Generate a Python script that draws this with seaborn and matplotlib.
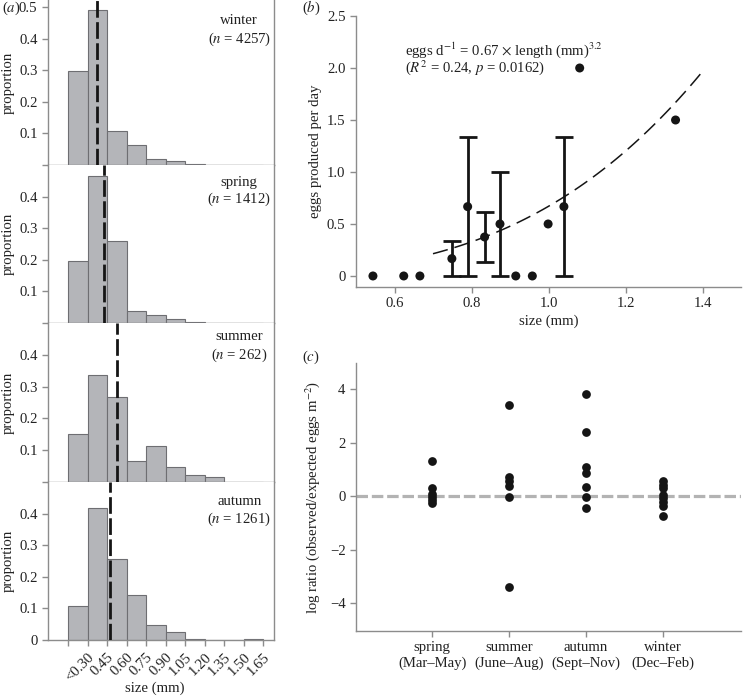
import numpy as np
import pandas as pd
import matplotlib
matplotlib.use("Agg")
import matplotlib.pyplot as plt
import seaborn as sns

sns.set_theme(style="ticks")
plt.rcParams["font.family"] = ["Liberation Serif", "DejaVu Serif"]
plt.rcParams["mathtext.fontset"] = "stix"
plt.rcParams["font.size"] = 10.6
plt.rcParams["axes.unicode_minus"] = True

# ---------------- data: panel (a) ----------------
size_bin_edges = [0.15, 0.30, 0.45, 0.60, 0.75, 0.90, 1.05, 1.20, 1.35, 1.50, 1.65]
size_tick_labels = ["<0.30", "0.45", "0.60", "0.75", "0.90", "1.05", "1.20", "1.35", "1.50", "1.65"]
hist_seasons = ["winter", "spring", "summer", "autumn"]
hist_n = [4257, 1412, 262, 1261]
prop_winter = [0.298, 0.490, 0.107, 0.064, 0.018, 0.012, 0.003, 0.001, 0.0, 0.0]
prop_spring = [0.195, 0.465, 0.258, 0.039, 0.025, 0.012, 0.003, 0.0, 0.0, 0.0]
prop_summer = [0.150, 0.336, 0.266, 0.065, 0.112, 0.046, 0.021, 0.017, 0.0, 0.0]
prop_autumn = [0.107, 0.418, 0.255, 0.142, 0.047, 0.024, 0.002, 0.0, 0.0, 0.003]
mean_size = [0.371, 0.429, 0.529, 0.475]

# ---------------- data: panel (b) ----------------
b_size = [0.544, 0.624, 0.666, 0.749, 0.790, 0.834, 0.874, 0.915, 0.958, 0.999, 1.040, 1.081, 1.330]
b_eggs = [0.0, 0.0, 0.0, 0.167, 0.667, 0.375, 0.5, 0.0, 0.0, 0.5, 0.667, 2.0, 1.5]
b_err_lo = [0.0, 0.0, 0.0, 0.167, 0.667, 0.24, 0.5, 0.0, 0.0, 0.0, 0.667, 0.0, 0.0]
b_err_hi = [0.0, 0.0, 0.0, 0.167, 0.667, 0.24, 0.5, 0.0, 0.0, 0.0, 0.667, 0.0, 0.0]
b_has_err = [False, False, False, True, True, True, True, False, False, False, True, False, False]
fit_coef = 0.67
fit_exp = 3.2
fit_from, fit_to = 0.70, 1.40

# ---------------- data: panel (c) ----------------
c_seasons = ["spring", "summer", "autumn", "winter"]
c_tick_labels = ["spring\n(Mar\u2013May)", "summer\n(June\u2013Aug)",
                 "autumn\n(Sept\u2013Nov)", "winter\n(Dec\u2013Feb)"]
c_spring = [1.31, 0.31, 0.08, -0.02, -0.12, -0.25]
c_summer = [3.41, 0.72, 0.56, 0.40, -0.04, -3.40]
c_autumn = [3.84, 2.41, 1.08, 0.87, 0.34, -0.04, -0.45]
c_winter = [0.58, 0.42, 0.30, 0.05, -0.05, -0.20, -0.37, -0.72]

# ---------------- figure ----------------
W, H = 743, 696
fig = plt.figure(figsize=(W / 100, H / 100), dpi=100)

def px_axes(l, t, r, b):
    return fig.add_axes([l / W, 1 - b / H, (r - l) / W, (b - t) / H])

SPINE = "#8c8c8c"
TXT = "#222222"

def style_axes(ax):
    for s in ax.spines.values():
        s.set_color(SPINE)
        s.set_linewidth(1.0)
    ax.tick_params(colors=SPINE, labelcolor=TXT, direction="out", length=4, width=1.0,
                   labelsize=10.6)
    ax.grid(False)
    ax.set_facecolor("white")

# panel (a)
props = [prop_winter, prop_spring, prop_summer, prop_autumn]
panel_px = [(0, 165), (165, 323), (323, 482), (482, 640)]
title_y = [(0.456, 0.399), (0.446, 0.392), (0.459, 0.399), (0.437, 0.383)]
centers = [(a + b) / 2 for a, b in zip(size_bin_edges[:-1], size_bin_edges[1:])]
for i, (season, n, p, m) in enumerate(zip(hist_seasons, hist_n, props, mean_size)):
    t, b = panel_px[i]
    ax = px_axes(48, t, 274, b)
    style_axes(ax)
    sns.histplot(x=centers, weights=p, bins=size_bin_edges, ax=ax,
                 color="#b4b5b9", edgecolor="#6e6e72", linewidth=0.8, alpha=1.0)
    ax.axvline(m, color="#151515", lw=2.0, dashes=(6.0, 1.6), zorder=5)
    ax.set_xlim(-0.004, 1.732)
    if i == 0:
        ax.set_ylim(0, 0.522)
        yt = [0, 0.1, 0.2, 0.3, 0.4, 0.5]
    else:
        ax.set_ylim(0, 0.5)
        yt = [0, 0.1, 0.2, 0.3, 0.4]
    ax.set_yticks(yt)
    ax.set_yticklabels([("0" if i == 3 else "") if v == 0 else f"{v:.1f}" for v in yt])
    ax.spines["top"].set_visible(False)
    ax.set_xticks(size_bin_edges)
    if i == 3:
        ax.set_xticklabels([""] + size_tick_labels, rotation=45, ha="right",
                           rotation_mode="anchor")
        ax.set_xlabel("size (mm)", color=TXT, fontsize=10.6)
        ax.xaxis.set_label_coords(0.472, -0.262)
    else:
        ax.set_xticklabels([])
        ax.set_xlabel("")
    ax.set_ylabel("proportion", color=TXT, fontsize=10.6)
    ax.yaxis.set_label_coords(-0.146, 0.5)
    ax.text(1.465, title_y[i][0], season, ha="center", va="center", color=TXT, fontsize=10.6)
    ax.text(1.465, title_y[i][1], f"($n$ = {n})", ha="center", va="center", color=TXT,
            fontsize=10.6)

# panel (b)
axb = px_axes(356, 16, 741, 287)
style_axes(axb)
axb.spines["top"].set_visible(False)
axb.spines["right"].set_visible(False)
xs = [x for x, h in zip(b_size, b_has_err) if h]
ys = [y for y, h in zip(b_eggs, b_has_err) if h]
lo = [e for e, h in zip(b_err_lo, b_has_err) if h]
hi = [e for e, h in zip(b_err_hi, b_has_err) if h]
axb.errorbar(xs, ys, yerr=[lo, hi], fmt="none", ecolor="#151515", elinewidth=2.0,
             capsize=6.5, capthick=2.0, zorder=3)
fit_x = np.linspace(fit_from, fit_to, 60)
fit_df = pd.DataFrame({"size": fit_x, "eggs": fit_coef * fit_x ** fit_exp})
sns.lineplot(data=fit_df, x="size", y="eggs", ax=axb, color="#151515", lw=1.1, zorder=2)
axb.lines[-1].set_dashes((10, 4.6))
sns.scatterplot(x=b_size, y=b_eggs, ax=axb, color="#151515", s=42, edgecolor="none",
                zorder=4)
axb.set_xlim(0.5, 1.5)
axb.set_ylim(-0.106, 2.5)
axb.set_xticks([0.6, 0.8, 1.0, 1.2, 1.4])
axb.set_xticklabels(["0.6", "0.8", "1.0", "1.2", "1.4"])
axb.set_yticks([0, 0.5, 1.0, 1.5, 2.0, 2.5])
axb.set_yticklabels(["0", "0.5", "1.0", "1.5", "2.0", "2.5"])
axb.set_xlabel("size (mm)", color=TXT, fontsize=10.6)
axb.xaxis.set_label_coords(0.5, -0.103)
axb.xaxis.label.set_va("top")
axb.set_ylabel("eggs produced per day", color=TXT, fontsize=10.6)
axb.yaxis.set_label_coords(-0.088, 0.5)
axb.text(0.627, 2.173, r"eggs d$^{-1}$ = 0.67 $\times$ length (mm)$^{3.2}$", ha="left",
         va="center", color=TXT, fontsize=10.6)
axb.text(0.627, 2.0, r"($R^2$ = 0.24, $p$ = 0.0162)", ha="left", va="center", color=TXT,
         fontsize=10.6)

# panel (c)
axc = px_axes(356, 363, 741, 631)
style_axes(axc)
axc.spines["top"].set_visible(False)
axc.spines["right"].set_visible(False)
c_vals = [c_spring, c_summer, c_autumn, c_winter]
c_df = pd.DataFrame({"season": [s for s, v in zip(c_seasons, c_vals) for _ in v],
                     "ratio": [x for v in c_vals for x in v]})
axc.axhline(0, color="#b3b3b3", lw=2.3, dashes=(3.6, 1.2), zorder=1)
sns.stripplot(data=c_df, x="season", y="ratio", order=c_seasons, jitter=False,
              color="#151515", size=6.3, linewidth=0, ax=axc, zorder=3)
axc.set_xlim(-0.99, 4.02)
axc.set_ylim(-5.03, 4.98)
axc.set_yticks([-4, -2, 0, 2, 4])
axc.set_xticks(range(4))
axc.set_xticklabels(c_tick_labels)
axc.set_xlabel("")
axc.set_ylabel("log ratio (observed/expected eggs m$^{-2}$)", color=TXT, fontsize=10.6)
axc.yaxis.set_label_coords(-0.088, 0.5)

# panel letters
fig.text(2 / W, 1 - 8 / H, r"($a$)", ha="left", va="center", color=TXT, fontsize=10.6)
fig.text(302 / W, 1 - 8 / H, r"($b$)", ha="left", va="center", color=TXT, fontsize=10.6)
fig.text(302 / W, 1 - 357 / H, r"($c$)", ha="left", va="center", color=TXT, fontsize=10.6)

fig.savefig("out.png", dpi=100, facecolor="white")
